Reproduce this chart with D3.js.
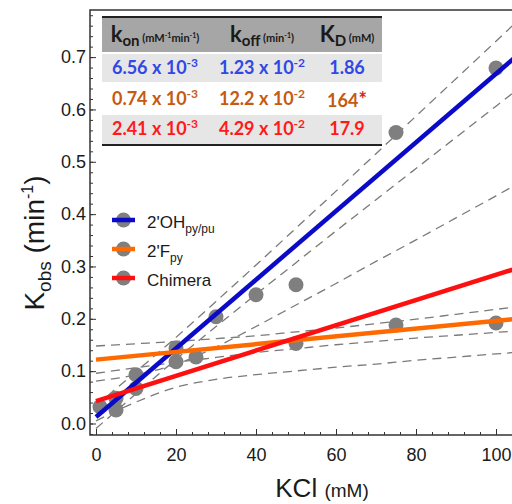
<!DOCTYPE html>
<html lang="en">
<head>
<meta charset="utf-8">
<title>Kobs vs KCl</title>
<script src="https://d3js.org/d3.v7.min.js"></script>
<style>
  body { margin: 0; background: #fff; }
  svg text { font-family: "Liberation Sans", Arial, sans-serif; fill: #1a1a1a; }
  .tbl text { font-family: Lato, "Open Sans", sans-serif; font-weight: bold; }
</style>
</head>
<body>
<script>
// size
let w = 512, h = 504;

// series
let names = ["2'OH", "2'F", "Chimera"];
let nameSubs = ["py/pu", "py", ""];
let lineColors = ["#0a0ac8", "#ff6a00", "#ff1010"];
let textColors = ["#2f48e6", "#c55a11", "#ff1a1a"];

// fit parameters (from the table)
let kon = [6.56e-3, 0.74e-3, 2.41e-3];
let koff = [1.23e-2, 12.2e-2, 4.29e-2];
let konText = ["6.56", "0.74", "2.41"];
let koffText = ["1.23", "12.2", "4.29"];
let kdText = ["1.86", "164", "17.9"];
let kdMark = ["", "*", ""];

// measured points
let ohX = [1, 5, 10, 20, 30, 40, 50, 75, 100];
let ohY = [0.032, 0.026, 0.093, 0.144, 0.204, 0.246, 0.265, 0.556, 0.679];
let fX = [50, 75, 100];
let fY = [0.153, 0.188, 0.192];
let chX = [5, 10, 20, 25];
let chY = [0.048, 0.067, 0.118, 0.127];

// confidence band half widths
let bandX = [0, 10, 20, 30, 40, 50, 60, 70, 80, 90, 100, 106];
let ohBand = [0.022, 0.021, 0.021, 0.024, 0.028, 0.033, 0.038, 0.044, 0.050, 0.056, 0.062, 0.066];
let fBand = [0.026, 0.023, 0.020, 0.018, 0.016, 0.016, 0.016, 0.017, 0.018, 0.020, 0.022, 0.023];
let chBand = [0.038, 0.026, 0.022, 0.031, 0.046, 0.063, 0.080, 0.098, 0.115, 0.133, 0.151, 0.162];

// ticks
let xTicks = [0, 20, 40, 60, 80, 100];
let yTicks = [0, 0.1, 0.2, 0.3, 0.4, 0.5, 0.6, 0.7];

let pointsX = [ohX, fX, chX];
let pointsY = [ohY, fY, chY];
let bands = [ohBand, fBand, chBand];

let pLeft = 90, pTop = 10, pBottom = 435;

let xScale = d3.scaleLinear().domain([-1.5, 106]).range([pLeft, 520]);
let yScale = d3.scaleLinear().domain([-0.022, 0.79]).range([pBottom, pTop]);

let svg = d3.select("body").append("svg")
  .attr("width", w).attr("height", h);

svg.append("clipPath").attr("id", "plot")
  .append("rect").attr("x", pLeft).attr("y", pTop)
  .attr("width", 520 - pLeft).attr("height", pBottom - pTop);

let plot = svg.append("g").attr("clip-path", "url(#plot)");

// dashed confidence bands
let bandLine = d3.line().curve(d3.curveMonotoneX)
  .x(d => xScale(d[0])).y(d => yScale(d[1]));
bands.forEach(function(b, i) {
  [1, -1].forEach(function(sgn) {
    let pts = bandX.map((x, j) => [x, koff[i] + kon[i] * x + sgn * b[j]]);
    plot.append("path").attr("d", bandLine(pts))
      .attr("fill", "none").attr("stroke", "#7a7a7a")
      .attr("stroke-width", 1.3).attr("stroke-dasharray", "9,6");
  });
});

// points
pointsX.forEach(function(xs, i) {
  plot.selectAll(null).data(xs.map((x, j) => [x, pointsY[i][j]]))
    .enter().append("circle")
    .attr("cx", d => xScale(d[0])).attr("cy", d => yScale(d[1]))
    .attr("r", 7.5).attr("fill", "#7f7f7f");
});

// fit lines
names.forEach(function(n, i) {
  plot.append("line")
    .attr("x1", xScale(0)).attr("y1", yScale(koff[i]))
    .attr("x2", xScale(106)).attr("y2", yScale(koff[i] + kon[i] * 106))
    .attr("stroke", lineColors[i]).attr("stroke-width", 4.5);
});

// axes
let yAxis = d3.axisLeft(yScale).tickValues(yTicks).tickSize(-6).tickPadding(4)
  .tickFormat(d3.format(".1f"));
let yMinor = d3.axisLeft(yScale).tickValues(d3.range(-0.02, 0.79, 0.02)).tickSize(-3).tickFormat("");
let xAxis = d3.axisBottom(xScale).tickValues(xTicks).tickSize(-6).tickPadding(13);
let xMinor = d3.axisBottom(xScale).tickValues(d3.range(0, 106, 4)).tickSize(-3).tickFormat("");

[yMinor, yAxis].forEach(function(a) {
  let g = svg.append("g").attr("transform", "translate(" + pLeft + ",0)").call(a);
  g.select(".domain").remove();
  g.selectAll("line").attr("stroke", "#333");
});
[xMinor, xAxis].forEach(function(a) {
  let g = svg.append("g").attr("transform", "translate(0," + pBottom + ")").call(a);
  g.select(".domain").remove();
  g.selectAll("line").attr("stroke", "#333");
});
svg.selectAll(".tick text").attr("font-size", 18).attr("fill", "#1a1a1a")
  .style("font-family", "'Liberation Sans', Arial, sans-serif");

// frame
svg.append("path")
  .attr("d", "M" + w + "," + pTop + "H" + pLeft + "V" + pBottom + "H" + w)
  .attr("fill", "none").attr("stroke", "#333").attr("stroke-width", 1.5);

// axis titles
let xt = svg.append("text").attr("x", 322).attr("y", 497).attr("text-anchor", "middle");
xt.append("tspan").attr("font-size", 26).text("KCl ");
xt.append("tspan").attr("font-size", 19).text("(mM)");

let yt = svg.append("text").attr("transform", "translate(44,243) rotate(-90)")
  .attr("text-anchor", "middle");
yt.append("tspan").attr("font-size", 28).text("K");
yt.append("tspan").attr("font-size", 19).attr("dy", 7).text("obs");
yt.append("tspan").attr("font-size", 28).attr("dy", -7).text(" (min");
yt.append("tspan").attr("font-size", 16).attr("dy", -11).text("-1");
yt.append("tspan").attr("font-size", 28).attr("dy", 11).text(")");

// legend
let legend = svg.append("g");
names.forEach(function(n, i) {
  let cy = 220 + i * 29;
  legend.append("circle").attr("cx", 123.5).attr("cy", cy).attr("r", 7.5).attr("fill", "#7f7f7f");
  legend.append("line").attr("x1", 112).attr("x2", 135).attr("y1", cy).attr("y2", cy)
    .attr("stroke", lineColors[i]).attr("stroke-width", 4.5);
  let t = legend.append("text").attr("x", 147).attr("y", cy + 8).attr("font-size", 17);
  t.append("tspan").text(n);
  if (nameSubs[i]) t.append("tspan").attr("font-size", 12).attr("dy", 5).text(nameSubs[i]);
});

// table
let tbl = svg.append("g").attr("class", "tbl");
let tx0 = 102, tx1 = 382;
let colX = [155, 262, 347];
tbl.append("rect").attr("x", tx0).attr("y", 17).attr("width", tx1 - tx0).attr("height", 35).attr("fill", "#a6a6a6");
tbl.append("rect").attr("x", tx0).attr("y", 54).attr("width", tx1 - tx0).attr("height", 28).attr("fill", "#e7e6e6");
tbl.append("rect").attr("x", tx0).attr("y", 115).attr("width", tx1 - tx0).attr("height", 29).attr("fill", "#e7e6e6");
tbl.append("line").attr("x1", tx0).attr("x2", tx1).attr("y1", 17).attr("y2", 17).attr("stroke", "#222").attr("stroke-width", 2);
tbl.append("line").attr("x1", tx0).attr("x2", tx1).attr("y1", 145).attr("y2", 145).attr("stroke", "#222").attr("stroke-width", 2);

let headMain = ["k", "k", "K"];
let headSub = ["on", "off", "D"];
let headUnit = [["(mM", "-1", "min", "-1", ")"], ["(min", "-1", ")"], ["(mM)"]];
headMain.forEach(function(m, i) {
  let t = tbl.append("text").attr("x", colX[i]).attr("y", 42).attr("text-anchor", "middle");
  t.append("tspan").attr("font-size", 22).text(m);
  t.append("tspan").attr("font-size", 15).attr("dy", 4).text(headSub[i]);
  let dy = -4;
  headUnit[i].forEach(function(u, j) {
    let sup = u === "-1";
    t.append("tspan").attr("font-size", sup ? 7 : 11)
      .attr("dy", j === 0 ? dy : (sup ? -4 : 4))
      .text((j === 0 ? " " : "") + u);
  });
});

names.forEach(function(n, i) {
  let by = 74 + i * 30.5;
  let t1 = tbl.append("text").attr("x", colX[0]).attr("y", by).attr("text-anchor", "middle").attr("font-size", 18).style("fill", textColors[i]);
  t1.append("tspan").text(konText[i] + " x 10");
  t1.append("tspan").attr("font-size", 12).attr("dy", -7).text("-3");
  let t2 = tbl.append("text").attr("x", colX[1]).attr("y", by).attr("text-anchor", "middle").attr("font-size", 18).style("fill", textColors[i]);
  t2.append("tspan").text(koffText[i] + " x 10");
  t2.append("tspan").attr("font-size", 12).attr("dy", -7).text("-2");
  let t3 = tbl.append("text").attr("x", colX[2]).attr("y", by + (kdMark[i] ? 2 : 0)).attr("text-anchor", "middle").attr("font-size", 18).style("fill", textColors[i]);
  t3.append("tspan").text(kdText[i]);
  if (kdMark[i]) t3.append("tspan").attr("font-size", 20).style("fill", "#e0201a").text(kdMark[i]);
});
</script>
</body>
</html>
